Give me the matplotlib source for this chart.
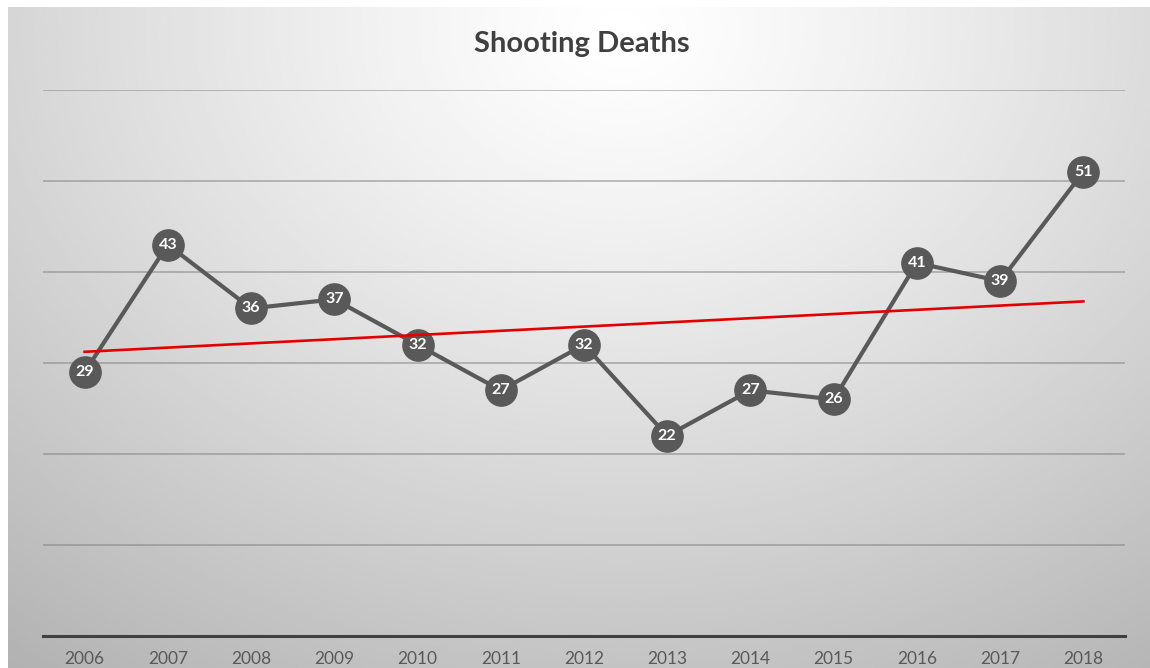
import numpy as np
import matplotlib.pyplot as plt

# data
years = ['2006', '2007', '2008', '2009', '2010', '2011', '2012',
         '2013', '2014', '2015', '2016', '2017', '2018']
deaths = [29, 43, 36, 37, 32, 27, 32, 22, 27, 26, 41, 39, 51]

W, H = 1150, 668
fig = plt.figure(figsize=(W / 100, H / 100), dpi=100)
fig.patch.set_facecolor('white')

# radial grey gradient behind the chart
bg = fig.add_axes([8 / W, 0, 1 - 8 / W, 661 / H], zorder=0)
gx, gy = np.meshgrid(np.linspace(8, W, 400), np.linspace(7, H, 240))
r = np.sqrt(((gx - 620) / 900) ** 2 + ((gy - 30) / 700) ** 2)
shade = np.clip(1.0 - 0.26 * r ** 1.2, 0, 1)
bg.imshow(shade, cmap='gray', vmin=0, vmax=1, aspect='auto',
          extent=[0, 1, 0, 1], origin='upper', interpolation='bilinear')
bg.set_axis_off()

ax = fig.add_axes([43 / W, (H - 636) / H, (1125 - 43) / W, (636 - 90) / H], zorder=1)
ax.patch.set_alpha(0)

x = np.arange(len(years))
ax.set_xlim(-0.5, len(years) - 0.5)
ax.set_ylim(0, 60)

for yv in range(10, 70, 10):
    ax.axhline(yv, color='#7a7a7a', alpha=0.55, lw=1.2, zorder=1)

ax.plot(x, deaths, color='#595959', lw=3, marker='o', markersize=22.5,
        markerfacecolor='#595959', markeredgecolor='#595959', zorder=3,
        solid_capstyle='round')
for xi, v in zip(x, deaths):
    ax.text(xi, v, str(v), color='white', fontsize=11.5, fontweight='bold',
            family='Lato', ha='center', va='center', zorder=5)

# linear trend line
coef = np.polyfit(x, deaths, 1)
ax.plot(x[[0, -1]], np.polyval(coef, x[[0, -1]]), color='#e30000', lw=1.9, zorder=4)

for s in ['top', 'right', 'left']:
    ax.spines[s].set_visible(False)
ax.spines['bottom'].set_color('#404040')
ax.spines['bottom'].set_linewidth(2.2)
ax.set_yticks([])
ax.set_xticks(x)
ax.set_xticklabels(years, family='Lato', fontsize=12.5, color='#595959')
ax.tick_params(axis='x', length=0, pad=11)

fig.text(582 / W, 1 - 44 / H, 'Shooting Deaths', ha='center', va='center',
         fontsize=21, fontweight='bold', family='Lato', color='#404040')

fig.savefig('out.png', dpi=100)
